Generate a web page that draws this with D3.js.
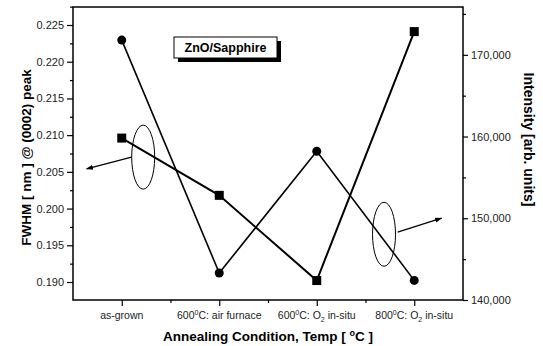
<!DOCTYPE html>
<html>
<head>
<meta charset="utf-8">
<script src="https://cdn.jsdelivr.net/npm/d3@7"></script>
<style>
  body { margin: 0; background: #fff; }
  svg { font-family: "Liberation Sans", Arial, sans-serif; }
</style>
</head>
<body>
<div id="chart"></div>
<script>
// Data
const categories = ["as-grown", "600^0C: air furnace", "600^0C: O_2 in-situ", "800^0C: O_2 in-situ"];
const fwhm = [0.2096, 0.2018, 0.1902, 0.2241];          // squares, left axis
const intensity = [171800, 143300, 158200, 142400];     // circles, right axis
const leftTicks = [0.190, 0.195, 0.200, 0.205, 0.210, 0.215, 0.220, 0.225];
const rightTicks = [140000, 150000, 160000, 170000];

const width = 543, height = 346;
const margin = {top: 7, right: 80, bottom: 46, left: 73};
const plotRight = width - margin.right;
const plotBottom = height - margin.bottom;

const svg = d3.select("#chart").append("svg")
    .attr("width", width)
    .attr("height", height);

// Scales
const x = d3.scaleLinear().domain([-0.5, 3.5]).range([margin.left, plotRight]);
const yL = d3.scaleLinear().domain([0.18755, 0.22745]).range([plotBottom, margin.top]);
const yR = d3.scaleLinear().domain([140000, 175850]).range([plotBottom, margin.top]);

// Frame
svg.append("rect")
    .attr("x", margin.left).attr("y", margin.top)
    .attr("width", plotRight - margin.left).attr("height", plotBottom - margin.top)
    .attr("fill", "none").attr("stroke", "#000").attr("stroke-width", 1.5);

// Left axis
svg.append("g")
    .attr("transform", `translate(${margin.left},0)`)
    .call(d3.axisLeft(yL).tickValues(leftTicks).tickFormat(d3.format(".3f")).tickSize(6).tickPadding(3));
svg.append("g")
    .attr("transform", `translate(${margin.left},0)`)
    .call(d3.axisLeft(yL).tickValues(leftTicks.map(d => d + 0.0025)).tickFormat("").tickSize(3));

// Right axis
svg.append("g")
    .attr("transform", `translate(${plotRight},0)`)
    .call(d3.axisRight(yR).tickValues(rightTicks).tickFormat(d3.format(",")).tickSize(5).tickPadding(3));
svg.append("g")
    .attr("transform", `translate(${plotRight},0)`)
    .call(d3.axisRight(yR).tickValues(rightTicks.map(d => d + 5000)).tickFormat("").tickSize(3));

// Bottom axis
svg.append("g")
    .attr("transform", `translate(0,${plotBottom})`)
    .call(d3.axisBottom(x).tickValues(d3.range(categories.length)).tickFormat("").tickSize(6));
svg.append("g")
    .attr("transform", `translate(0,${plotBottom})`)
    .call(d3.axisBottom(x).tickValues([0.5, 1.5, 2.5]).tickFormat("").tickSize(3));

svg.selectAll(".domain").remove();
svg.selectAll(".tick line").attr("stroke", "#000").attr("stroke-width", 1.2);
svg.selectAll(".tick text").attr("font-size", 11).attr("fill", "#222")
    .attr("font-family", "'Liberation Sans', Arial, sans-serif");

// Labels with super/subscripts: ^x superscript, _x subscript
function richText(sel, str, small, shift) {
    const re = /(\^.|_.)/g;
    let last = 0, m;
    while ((m = re.exec(str)) !== null) {
        if (m.index > last) sel.append("tspan").text(str.slice(last, m.index));
        const isSup = m[0][0] === "^";
        sel.append("tspan")
            .attr("font-size", small)
            .attr("baseline-shift", isSup ? shift : -shift * 0.7)
            .text(m[0][1]);
        last = m.index + 2;
    }
    if (last < str.length) sel.append("tspan").text(str.slice(last));
}

categories.forEach((c, i) => {
    const t = svg.append("text")
        .attr("x", x(i)).attr("y", plotBottom + 19)
        .attr("text-anchor", "middle")
        .attr("font-size", 10.5).attr("fill", "#222");
    richText(t, c, 7, 4);
});

// Axis titles
svg.append("text")
    .attr("transform", `translate(31,${(margin.top + plotBottom) / 2 + 4}) rotate(-90)`)
    .attr("text-anchor", "middle")
    .attr("font-size", 13.5).attr("font-weight", "bold")
    .text("FWHM [ nm ] @ (0002) peak");

svg.append("text")
    .attr("transform", `translate(524,${(margin.top + plotBottom) / 2 - 14}) rotate(90)`)
    .attr("text-anchor", "middle")
    .attr("font-size", 14).attr("font-weight", "bold")
    .text("Intensity [arb. units]");

const xt = svg.append("text")
    .attr("x", (margin.left + plotRight) / 2).attr("y", 341)
    .attr("text-anchor", "middle")
    .attr("font-size", 13.5).attr("font-weight", "bold");
richText(xt, "Annealing Condition, Temp [ ^oC ]", 9, 5);

// Series lines
const lineL = d3.line().x((d, i) => x(i)).y(d => yL(d));
const lineR = d3.line().x((d, i) => x(i)).y(d => yR(d));

svg.append("path").datum(intensity)
    .attr("d", lineR).attr("fill", "none")
    .attr("stroke", "#000").attr("stroke-width", 1.6);

svg.append("path").datum(fwhm)
    .attr("d", lineL).attr("fill", "none")
    .attr("stroke", "#000").attr("stroke-width", 2);

// Markers
svg.selectAll("circle.pt").data(intensity).enter().append("circle")
    .attr("class", "pt")
    .attr("cx", (d, i) => x(i)).attr("cy", d => yR(d))
    .attr("r", 4.5).attr("fill", "#000");

svg.selectAll("rect.pt").data(fwhm).enter().append("rect")
    .attr("class", "pt")
    .attr("x", (d, i) => x(i) - 4.5).attr("y", d => yL(d) - 4.5)
    .attr("width", 9).attr("height", 9).attr("fill", "#000");

// Annotations: ellipses with arrows pointing to their axes
svg.append("defs").append("marker")
    .attr("id", "arrow")
    .attr("viewBox", "0 0 10 10")
    .attr("refX", 9).attr("refY", 5)
    .attr("markerWidth", 6).attr("markerHeight", 6)
    .attr("orient", "auto")
    .append("path").attr("d", "M0,1.5 L10,5 L0,8.5 Z").attr("fill", "#000");

const annotations = [
    {cx: 0.22, cy: 0.2070, from: [0.1, 0.2070], to: [-0.36, 0.2054]},
    {cx: 2.69, cy: 0.1965, from: [2.83, 0.1968], to: [3.28, 0.1987]}
];
annotations.forEach(a => {
    svg.append("ellipse")
        .attr("cx", x(a.cx)).attr("cy", yL(a.cy))
        .attr("rx", 11.5).attr("ry", 32)
        .attr("fill", "none").attr("stroke", "#000").attr("stroke-width", 1);
    svg.append("line")
        .attr("x1", x(a.from[0])).attr("y1", yL(a.from[1]))
        .attr("x2", x(a.to[0])).attr("y2", yL(a.to[1]))
        .attr("stroke", "#000").attr("stroke-width", 1.2)
        .attr("marker-end", "url(#arrow)");
});

// Sample label box with drop shadow
const box = {x: 174, y: 37, w: 103, h: 21};
svg.append("rect")
    .attr("x", box.x + 4).attr("y", box.y + 4)
    .attr("width", box.w).attr("height", box.h).attr("fill", "#000");
svg.append("rect")
    .attr("x", box.x).attr("y", box.y)
    .attr("width", box.w).attr("height", box.h)
    .attr("fill", "#fff").attr("stroke", "#000").attr("stroke-width", 1);
svg.append("text")
    .attr("x", box.x + box.w / 2).attr("y", box.y + 15)
    .attr("text-anchor", "middle")
    .attr("font-size", 12.5).attr("font-weight", "bold")
    .text("ZnO/Sapphire");
</script>
</body>
</html>
